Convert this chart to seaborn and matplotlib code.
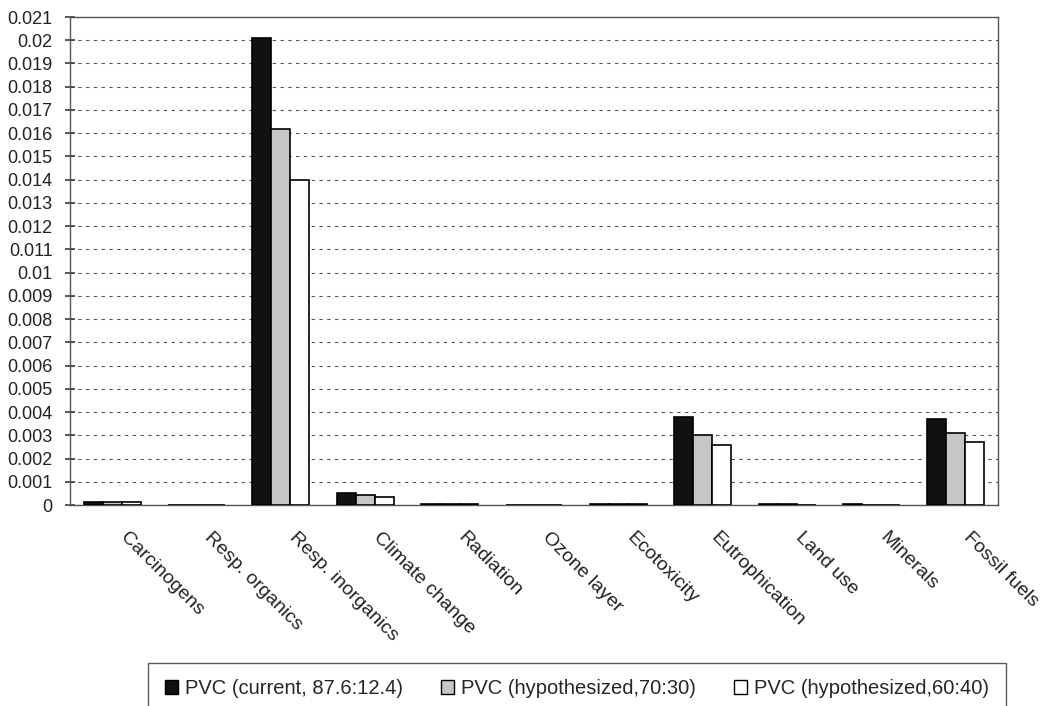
import numpy as np
import pandas as pd
import matplotlib
matplotlib.use("Agg")
import matplotlib.pyplot as plt
import seaborn as sns

sns.set_theme(style="white")
plt.rcParams['font.family'] = ['Liberation Sans', 'DejaVu Sans']

categories = ["Carcinogens", "Resp. organics", "Resp. inorganics", "Climate change",
              "Radiation", "Ozone layer", "Ecotoxicity", "Eutrophication",
              "Land use", "Minerals", "Fossil fuels"]
series = ["PVC (current, 87.6:12.4)", "PVC (hypothesized,70:30)", "PVC (hypothesized,60:40)"]
current = [0.00013, 0.0, 0.0201, 0.00050, 0.00006, 0.0, 0.00006, 0.0038, 0.00006, 0.00005, 0.0037]
hyp_70 = [0.00012, 0.0, 0.0162, 0.00043, 0.00004, 0.0, 0.00006, 0.0030, 0.00005, 0.00001, 0.0031]
hyp_60 = [0.00012, 0.0, 0.0140, 0.00035, 0.00003, 0.0, 0.00005, 0.0026, 0.00002, 0.00001, 0.0027]
colors = ["#111111", "#c6c6c6", "#ffffff"]

df = pd.DataFrame({
    "category": categories * 3,
    "series": np.repeat(series, len(categories)),
    "value": current + hyp_70 + hyp_60,
})

fig = plt.figure(figsize=(10.49, 7.06), dpi=100)
ax = fig.add_axes([70/1049, 1 - 505/706, 928/1049, 488/706])

sns.barplot(data=df, x="category", y="value", hue="series", order=categories,
            hue_order=series, palette=colors, width=0.675, edgecolor="black",
            linewidth=1.2, saturation=1, errorbar=None, ax=ax, zorder=3)

yt = np.round(np.arange(0, 0.0211, 0.001), 3)
ax.set_ylim(0, 0.021)
ax.set_yticks(yt)
ax.set_yticklabels([f"{v:g}" for v in yt], fontsize=13, color="#222222")
ax.set_xlim(-0.5, len(categories) - 0.5)
ax.yaxis.grid(True, linestyle=(0, (3, 4)), color="#555555", linewidth=0.8, zorder=0)
ax.set_axisbelow(True)
ax.set_xlabel("")
ax.set_ylabel("")

# labels start a bit right of the category centre, like the Excel original
ax.set_xticks(np.arange(len(categories)) + 0.2)
ax.set_xticklabels(categories, rotation=-45, ha="left", va="top",
                   rotation_mode="anchor", fontsize=14, color="#222222")
ax.tick_params(axis="x", which="major", length=0, pad=17)
ax.set_xticks(np.arange(-0.5, len(categories), 1), minor=True)
ax.tick_params(axis="x", which="minor", length=5, direction="out", color="#444444")
ax.tick_params(axis="y", length=7, direction="inout", color="#444444", left=True, pad=9)
for s in ax.spines.values():
    s.set_color("#555555")
    s.set_linewidth(1.0)

ax.legend_.remove()
handles = [plt.Rectangle((0, 0), 1, 1, facecolor=c, edgecolor="black", linewidth=1) for c in colors]
leg = fig.legend(handles, series, loc="upper center", ncol=3,
                 bbox_to_anchor=(577/1049, 1 - 663/706),
                 fontsize=14.5, frameon=True, fancybox=False, edgecolor="#333333",
                 handlelength=0.65, handleheight=0.65, handletextpad=0.35,
                 columnspacing=1.9, borderaxespad=0, borderpad=0.8)
leg.get_frame().set_linewidth(1.0)

fig.savefig("out.png", dpi=100)
